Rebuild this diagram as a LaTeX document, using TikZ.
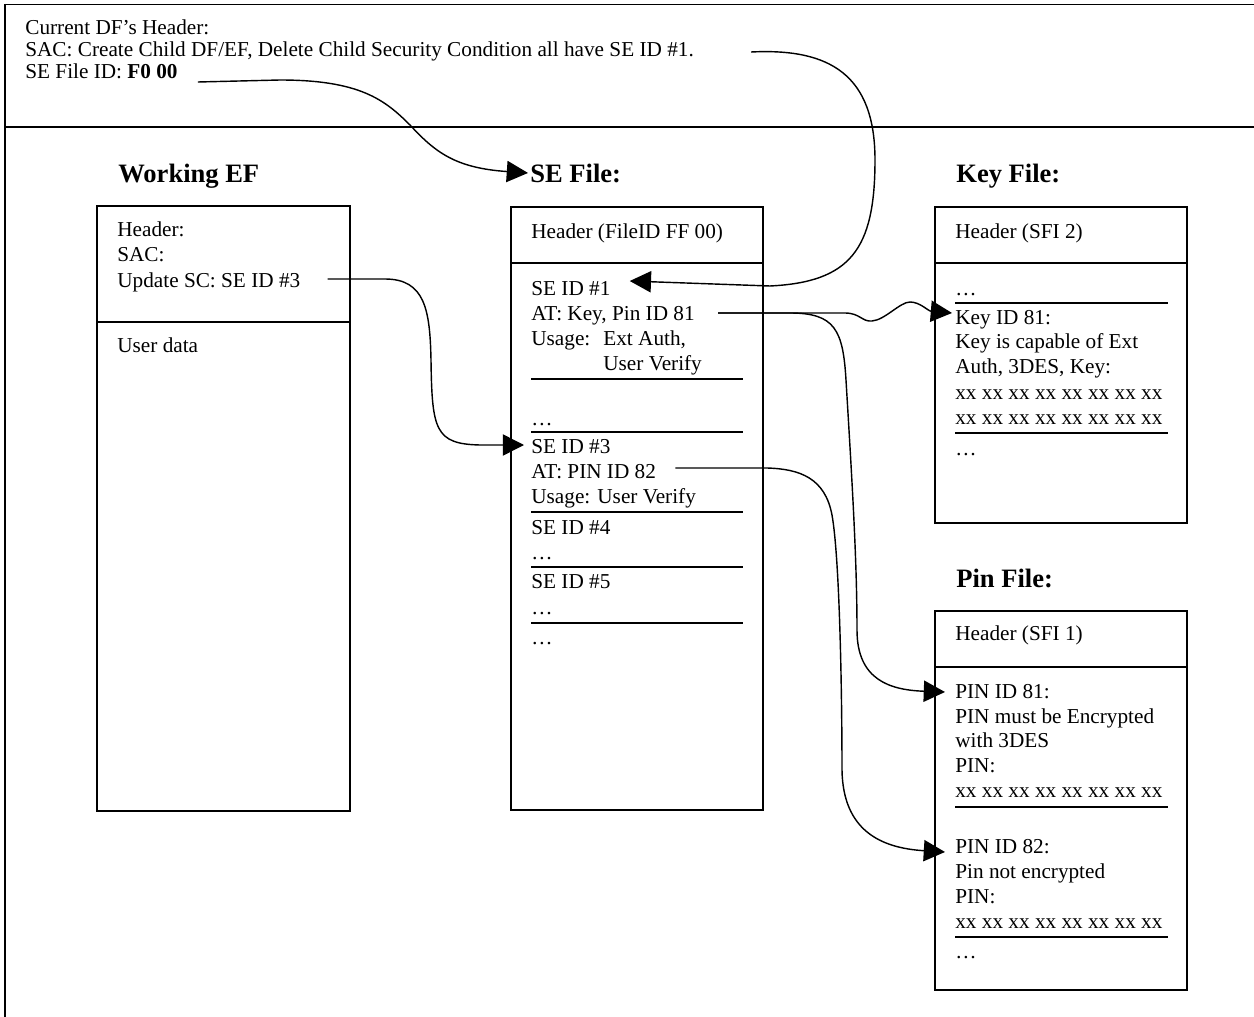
\documentclass[tikz,border=0pt]{standalone}
\usepackage{fontspec}
\setmainfont{Liberation Serif}
\usetikzlibrary{arrows.meta}
\tikzset{
  txt/.style={anchor=base west, inner sep=0pt, text height=9pt, text depth=3pt, font=\fontsize{12}{14}\selectfont},
  ttl/.style={anchor=base west, inner sep=0pt, font=\fontsize{15}{18}\selectfont\bfseries},
  box/.style={line width=0.8pt},
  uline/.style={line width=1pt},
  link/.style={line width=0.8pt, ->},
}
\begin{document}
\begin{tikzpicture}[x=0.565pt, y=-0.565pt, >={Triangle[length=12pt,width=12pt]}]
\useasboundingbox (0,0) rectangle (1254,1017);
% frame of the page
\draw[line width=0.5pt] (1254,4) -- (5,4);
\draw[line width=0.8pt] (5,4) -- (5,1017);
\draw[line width=1.1pt] (5,127) -- (1254,127);
% current DF header
\node[txt] (hdcur) at (25,35) {Current DF’s Header:};
\node[txt] (hdsac) at (25,57) {SAC: Create Child DF/EF, Delete Child Security Condition all have SE ID \#1.};
\node[txt] (hdse) at (25,79) {SE File ID: \textbf{F0 00}};
% titles
\node[ttl] (weftitle) at (118,182) {Working EF};
\node[ttl] (setitle) at (530,182) {SE File:};
\node[ttl] (keytitle) at (956,182) {Key File:};
\node[ttl] (pintitle) at (956,587) {Pin File:};
% boxes
\foreach \l/\t/\d/\b/\r in {97/206/322/811/350, 511/207/263/810/763, 935/207/263/523/1187, 935/611/667/990/1187} {
  \draw[box] (\l,\t) rectangle (\r,\b);
  \draw[line width=1pt] (\l,\d) -- (\r,\d);
}
% working EF
\node[txt] (wefhd) at (117,237) {Header:};
\node[txt] (wefsac) at (117,262) {SAC:};
\node[txt] (wefsc) at (117,287) {Update SC: SE ID \#3};
\node[txt] (wefdata) at (117,352) {User data};
% SE file
\node[txt] (sehd) at (531,238) {Header (FileID FF 00)};
\node[txt] (se1) at (531,295) {SE ID \#1};
\node[txt] (se1at) at (531,320) {AT: Key, Pin ID 81};
\node[txt] (se1use) at (531,345) {Usage:};
\node[txt] (se1ext) at (603,345) {Ext Auth,};
\node[txt] (se1usr) at (603,370) {User Verify};
\node[txt] (se2) at (531,425) {…};
\node[txt] (se3) at (531,453) {SE ID \#3};
\node[txt] (se3at) at (531,478) {AT: PIN ID 82};
\node[txt] (se3use) at (531,503) {Usage: User Verify};
\node[txt] (se4) at (531,534) {SE ID \#4};
\node[txt] (se4dots) at (531,559) {…};
\node[txt] (se5) at (531,588) {SE ID \#5};
\node[txt] (se5dots) at (531,614) {…};
\node[txt] (semore) at (531,644) {…};
\foreach \y in {379,432,512,567,623}
  \draw[uline] (531,\y) -- (743,\y);
% key file
\node[txt] (keyhd) at (955,238) {Header (SFI 2)};
\node[txt] (keyprev) at (955,295) {…};
\node[txt] (key81) at (955,324) {Key ID 81:};
\foreach \t [count=\i from 0] in {{Key is capable of Ext}, {Auth, 3DES, Key:}, {xx xx xx xx xx xx xx xx}, {xx xx xx xx xx xx xx xx}}
  \node[txt] (keytxt\i) at (955,348+25.5*\i) {\t};
\node[txt] (keynext) at (955,455) {…};
\foreach \y in {303,433}
  \draw[uline] (955,\y) -- (1168,\y);
% pin file
\node[txt] (pinhd) at (955,640) {Header (SFI 1)};
\node[txt] (pin81) at (955,698) {PIN ID 81:};
\foreach \t [count=\i from 0] in {{PIN must be Encrypted}, {with 3DES}, {PIN:}, {xx xx xx xx xx xx xx xx}}
  \node[txt] (pinfst\i) at (955,723+24.8*\i) {\t};
\node[txt] (pin82) at (955,853) {PIN ID 82:};
\foreach \t [count=\i from 0] in {{Pin not encrypted}, {PIN:}, {xx xx xx xx xx xx xx xx}}
  \node[txt] (pinsnd\i) at (955,878+25*\i) {\t};
\node[txt] (pinnext) at (955,958) {…};
\foreach \y in {807,937}
  \draw[uline] (955,\y) -- (1168,\y);
% links
\draw[link] ([shift={(20,3)}]hdse.base east) -- (280,80) .. controls (360,80) and (385,100) .. (410,125) .. controls (435,152) and (455,168) .. ([shift={(-2,0)}]setitle.west);
\draw[link] ([shift={(57,-5)}]hdsac.base east) .. controls (830,48) and (875,75) .. (875,160) .. controls (875,250) and (850,282) .. (770,286) -- ([shift={(19,-14)}]se1.base east);
\draw[link] ([shift={(27,-8)}]wefsc.base east) -- (385,279) .. controls (425,279) and (430,310) .. (431,360) .. controls (432,430) and (435,444) .. (480,445) -- ([shift={(-7,-8)}]se3.base west);
\draw[link] ([shift={(23,-7)}]se1at.base east) -- (845,313) .. controls (860,313) and (862,322) .. (872,321) .. controls (885,320) and (900,302) .. (910,302) .. controls (920,302) and (928,311) .. ([shift={(-3,-11)}]key81.base west);
\draw[link] ([shift={(23,-7)}]se1at.base east) -- (790,313) .. controls (835,313) and (843,330) .. (846,380) .. controls (852,480) and (857,560) .. (857,630) .. controls (857,680) and (890,690) .. ([shift={(-10,-6)}]pin81.base west);
\draw[link] ([shift={(19,-10)}]se3at.base east) -- (767,468) .. controls (800,469) and (825,478) .. (832,515) .. controls (840,560) and (842,700) .. (842,770) .. controls (843,830) and (880,848) .. ([shift={(-10,-1)}]pin82.base west);
\end{tikzpicture}
\end{document}
